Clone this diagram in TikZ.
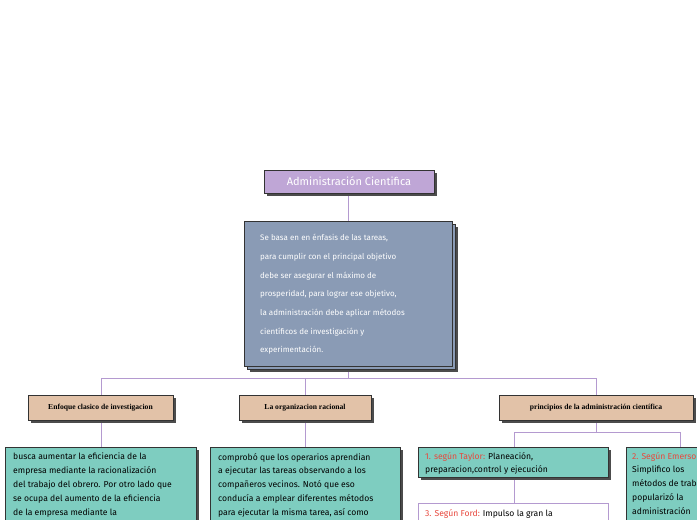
\documentclass[tikz,border=0pt]{standalone}
\usepackage{fontspec}
\setmainfont{Fira Sans}
\newfontfamily\hdfont{Liberation Serif}
\definecolor{ttl}{HTML}{BFA6D6}
\definecolor{mainb}{HTML}{8A9BB5}
\definecolor{tan}{HTML}{E2C2A8}
\definecolor{grn}{HTML}{7ECDC0}
\definecolor{lin}{HTML}{B49AD0}
\definecolor{lbl}{HTML}{E8473C}
\tikzset{
 shad/.style={fill=black!70},
 hd/.style={draw=black!80,fill=tan,minimum height=25pt,font=\hdfont\bfseries\fontsize{7.6}{8}\selectfont,inner sep=0pt},
 gtxt/.style={anchor=north west,align=left,inner sep=0pt,font=\fontsize{8.6}{13.9}\selectfont},
 con/.style={draw=lin,line width=0.8pt}
}
\begin{document}
\begin{tikzpicture}[x=1pt,y=-1pt]
\useasboundingbox (0,0) rectangle (697,520);
\clip (0,0) rectangle (697,520);
% connectors
\coordinate (hL) at (101,378); \coordinate (hR) at (596,378);
\coordinate (h2L) at (514,432); \coordinate (h2R) at (680,432);
\draw[con] (348,193) -- (348,221);
\draw[con] (348,366) -- (348,378);
\draw[con] (hL) -- (hR);
\draw[con] (hL) -- (101,395);
\draw[con] (305,378) -- (305,395);
\draw[con] (hR) -- (596,395);
\draw[con] (101,420) -- (101,447);
\draw[con] (305,420) -- (305,447);
\draw[con] (596,420) -- (596,432);
\draw[con] (h2L) -- (h2R);
\draw[con] (h2L) -- (514,447);
\draw[con] (h2R) -- (680,447);
\draw[con] (514,477) -- (514,503);
% title
\fill[shad] (267,173) rectangle (437,196);
\node[draw=black!80,fill=ttl,minimum width=170pt,minimum height=23pt,inner sep=0pt,text=white,font=\fontsize{11}{12}\selectfont] (title) at (349,181.5) {Administración Cientifica};
% main
\fill[shad] (250,227) rectangle (458,372);
\fill[white] (247,224) rectangle (455,369);
\draw[black!80,fill=mainb] (247,224) rectangle (455,369);
\node[draw=black!80,fill=mainb,anchor=north west,minimum width=208pt,minimum height=145pt,inner sep=0pt] (main) at (244,221) {};
\node[anchor=north west,align=left,text=white,font=\fontsize{8}{18.7}\selectfont,inner sep=0pt] (maint) at (260,234) {Se basa en en énfasis de las tareas,\\para cumplir con el principal objetivo\\debe ser asegurar el máximo de\\prosperidad, para lograr ese objetivo,\\la administración debe aplicar métodos\\científicos de investigación y\\experimentación.};
% headers
\fill[shad] (31,398) rectangle (176,423);
\node[hd,minimum width=145pt] (h1) at (100.5,407.5) {Enfoque clasico de investigacion};
\fill[shad] (242,398) rectangle (374,423);
\node[hd,minimum width=132pt] (h2) at (305,407.5) {La organizacion racional};
\fill[shad] (502,398) rectangle (696,423);
\node[hd,minimum width=194pt] (h3) at (596,407.5) {principios de la administración científica};
% green boxes
\fill[shad] (8,450) rectangle (199,560);
\draw[black!80,fill=grn] (5,447) rectangle (196,557);
\node[gtxt] (g1) at (13,453) {busca aumentar la eficiencia de la\\empresa mediante la racionalización\\del trabajo del obrero. Por otro lado que\\se ocupa del aumento de la eficiencia\\de la empresa mediante la\\organización y aplicación de principios\\generales};
\fill[shad] (213,450) rectangle (403,560);
\draw[black!80,fill=grn] (210,447) rectangle (400,557);
\node[gtxt] (g2) at (218,453) {comprobó que los operarios aprendian\\a ejecutar las tareas observando a los\\compañeros vecinos. Notó que eso\\conducía a emplear diferentes métodos\\para ejecutar la misma tarea, así como\\a utilizar diversos instrumentos y\\herramientas};
\fill[shad] (421,450) rectangle (611,480);
\draw[black!80,fill=grn] (418,447) rectangle (608,477);
\node[gtxt] (g3) at (425,452) {\textcolor{lbl}{1. según Taylor:} Planeación,\\preparacion,control y ejecución};
\fill[shad] (629,450) rectangle (720,560);
\draw[black!80,fill=grn] (626,447) rectangle (717,557);
\node[gtxt] (g4) at (632,452) {\textcolor{lbl}{2. Según Emerson:}\\Simplifico los\\métodos de trabajo,\\popularizó la\\administración\\cientifica, y llevó};
\draw[lin,fill=white] (418,503) rectangle (608,560);
\node[gtxt] (g5) at (425,509) {\textcolor{lbl}{3. Según Ford:} Impulso la gran la\\producción};
\end{tikzpicture}
\end{document}
